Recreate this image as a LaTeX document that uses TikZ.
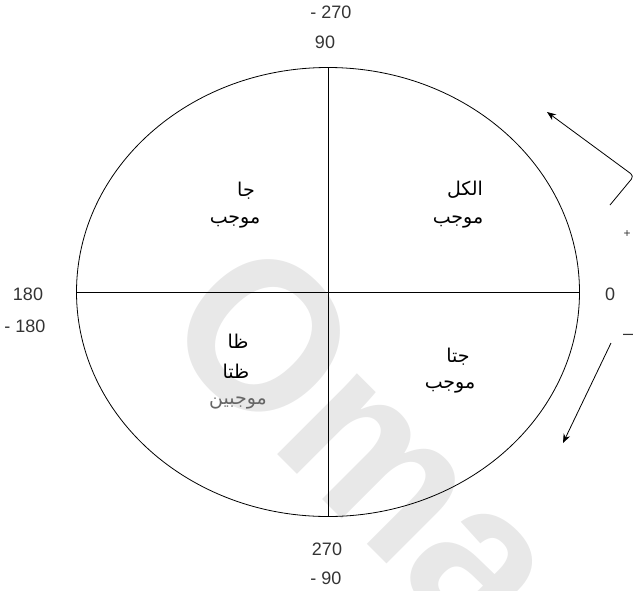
\documentclass[tikz,border=0pt]{standalone}
\usepackage{fontspec}
\setmainfont{Liberation Sans}
\newfontfamily\arabicfont[Script=Arabic]{DejaVu Sans}
\TeXXeTstate=1
\usetikzlibrary{arrows.meta}
\begin{document}
\begin{tikzpicture}[x=1pt,y=-1pt,
  num/.style={font=\fontsize{18}{20}\selectfont, text=black!80, inner sep=0pt},
  ar/.style={font=\arabicfont\fontsize{19}{22}\selectfont, inner sep=0pt},
  axis/.style={line width=0.9pt, black},
  arr/.style={line width=0.8pt, black, -{Stealth[length=9pt,width=7pt]}}]
\useasboundingbox (0,0) rectangle (635,590);
% watermark
\node[rotate=-45, text=black!9, inner sep=0pt, anchor=base west,
  font=\bfseries\fontsize{215}{215}\selectfont] (wm) at (155,332) {\scalebox{0.95}[1]{Oma}};
% circle and axes
\draw[line width=0.8pt] (328,292) ellipse [x radius=251.5pt, y radius=224.5pt];
\coordinate (L) at (77,292);
\coordinate (R) at (580,292);
\coordinate (T) at (328,68);
\coordinate (B) at (328,517);
\draw[axis] (L) -- (R);
\draw[axis] (T) -- (B);
% numbers
\node[num] (n270a) at (331,12) {- 270};
\node[num] (n90a) at (325,42) {90};
\node[num] (n270b) at (327,549) {270};
\node[num] (n90b) at (326,578) {- 90};
\node[num] (n180a) at (28,294) {180};
\node[num] (n180b) at (25,326) {- 180};
\node[num] (n0) at (610,294) {0};
\node[num, font=\fontsize{12}{12}\selectfont] (plus) at (627,234) {+};
\node[num] (minus) at (628,337) {\textendash};
% arabic labels
\node[ar] (q2a) at (246,191) {\beginR جا\endR};
\node[ar] (q2b) at (235,222) {\beginR موجب\endR};
\node[ar] (q1a) at (465,190) {\beginR الكل\endR};
\node[ar] (q1b) at (458,222) {\beginR موجب\endR};
\node[ar] (q3a) at (238,341) {\beginR ظا\endR};
\node[ar] (q3b) at (236,371) {\beginR ظتا\endR};
\node[ar, text=black!60] (q3c) at (238,403) {\beginR موجبين\endR};
\node[ar] (q4a) at (458,357) {\beginR جتا\endR};
\node[ar] (q4b) at (450,387) {\beginR موجب\endR};
% arrows
\coordinate (ua) at (610,205);
\coordinate (ub) at (634,176);
\coordinate (uc) at (547,112);
\draw[arr, rounded corners=4pt] (ua) -- (ub) -- (uc);
\coordinate (la) at (611,343);
\coordinate (lb) at (563,443);
\draw[arr] (la) -- (lb);
\end{tikzpicture}
\end{document}
